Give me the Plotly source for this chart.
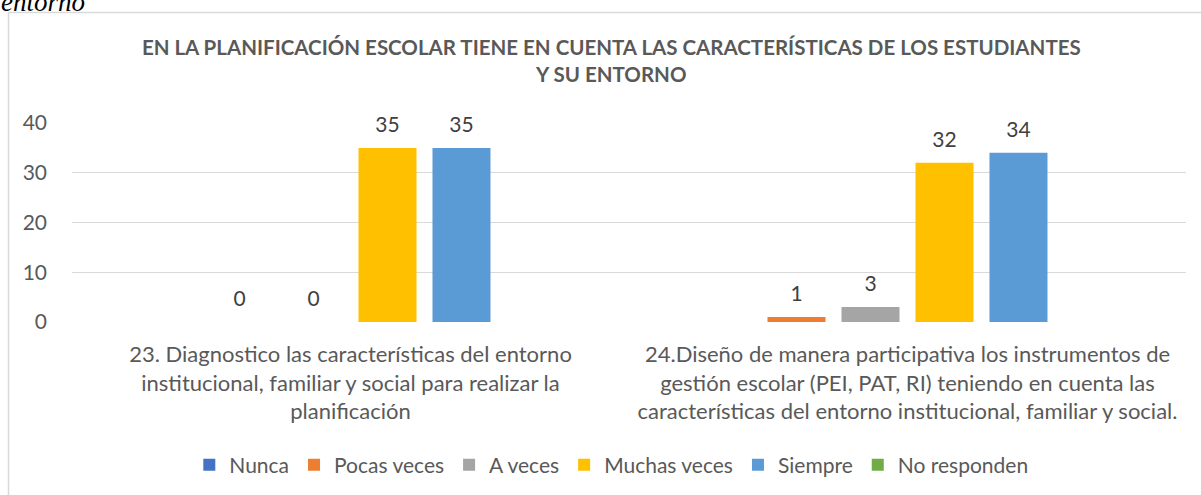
import plotly.graph_objects as go

categories = [
    "23. Diagnostico las características del entorno<br>institucional, familiar y social para realizar la<br>planificación",
    "24.Diseño de manera participativa los instrumentos de<br>gestión escolar (PEI, PAT, RI) teniendo en cuenta las<br>características del entorno institucional, familiar y social.",
]
series_names = ["Nunca", "Pocas veces", "A veces", "Muchas veces", "Siempre", "No responden"]
nunca = [None, None]
pocas_veces = [0, 1]
a_veces = [0, 3]
muchas_veces = [35, 32]
siempre = [35, 34]
no_responden = [None, None]
y_ticks = [0, 10, 20, 30, 40]

colors = ["#4472C4", "#ED7D31", "#A5A5A5", "#FFC000", "#5B9BD5", "#70AD47"]
values = [nunca, pocas_veces, a_veces, muchas_veces, siempre, no_responden]

FONT = "Lato"
W, H = 1201, 495
L, R, T, B = 72, 15, 123, 173
ph = H - T - B
pw = W - L - R
GAP = 0.203


def py(p):
    # pixel row -> paper y
    return (H - B - p) / ph


def px(p):
    return (p - L) / pw


fig = go.Figure()
for name, vals, col in zip(series_names, values, colors):
    fig.add_trace(go.Bar(
        x=categories, y=vals, name=name, offsetgroup=name,
        marker=dict(color=col, line=dict(width=0)),
    ))

# data labels, grouped like the bars so they sit over them
for name, vals in zip(series_names, values):
    fig.add_trace(go.Scatter(
        x=categories, y=vals, offsetgroup=name, mode="markers+text",
        text=[("" if v is None else str(v)) for v in vals],
        textposition="top center", cliponaxis=False,
        marker=dict(size=16, opacity=0),
        textfont=dict(family=FONT, size=21, color="#404040"),
        showlegend=False, hoverinfo="skip",
    ))

fig.update_layout(
    width=W, height=H,
    margin=dict(l=L, r=R, t=T, b=B, autoexpand=False),
    paper_bgcolor="white", plot_bgcolor="white",
    barmode="group", bargap=GAP, bargroupgap=0.216,
    scattermode="group", scattergap=GAP,
    font=dict(family=FONT, color="#595959"),
    title=dict(
        text="EN LA PLANIFICACIÓN ESCOLAR TIENE EN CUENTA LAS CARACTERÍSTICAS DE LOS ESTUDIANTES<br>Y SU ENTORNO",
        x=0.509, xanchor="center", y=1 - 55 / H, yanchor="middle",
        font=dict(family=FONT, size=20.5, color="#595959", weight="bold"),
    ),
    xaxis=dict(showline=False, ticks="", tickfont=dict(size=22, color="#595959"),
               ticklabelstandoff=17, automargin=False),
    yaxis=dict(range=[0, 40], tickvals=y_ticks, showgrid=True, gridcolor="#d9d9d9", gridwidth=1.3,
               zeroline=False, showline=False, ticks="", ticklabelstandoff=24, automargin=False,
               tickfont=dict(size=21, color="#595959")),
    legend=dict(orientation="h", x=0.509, xref="container", xanchor="center",
                y=1 - 465 / H, yref="container", yanchor="middle",
                font=dict(size=21, color="#595959"), itemwidth=30, traceorder="normal"),
    showlegend=True,
)

fig.add_shape(type="line", xref="paper", yref="paper",
              x0=px(8.5), x1=px(8.5), y0=py(12.5), y1=py(520),
              line=dict(color="#d9d9d9", width=1.5))
fig.add_shape(type="line", xref="paper", yref="paper",
              x0=px(8.5), x1=px(1230), y0=py(12.5), y1=py(12.5),
              line=dict(color="#d9d9d9", width=1.5))

fig.add_annotation(text="<i>entorno</i>", xref="paper", yref="paper",
                   x=px(-1), y=py(2), xanchor="left", yanchor="middle", showarrow=False,
                   font=dict(family="Liberation Serif", size=27, color="black"))

fig.write_html("out.html", config={"displayModeBar": False},
               post_script="document.body.style.margin = '0';")
